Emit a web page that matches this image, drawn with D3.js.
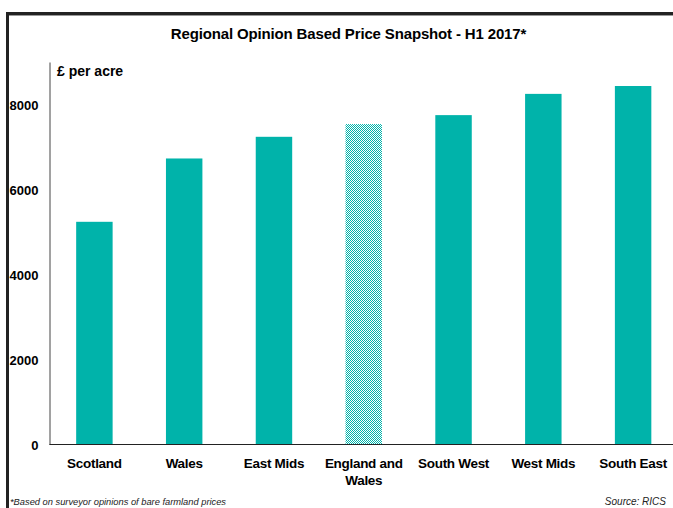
<!DOCTYPE html>
<html><head><meta charset="utf-8">
<script src="https://cdn.jsdelivr.net/npm/d3@7"></script>
<style>
html,body{margin:0;padding:0;background:#fff;}
svg{display:block;}
text{font-family:"Liberation Sans",Arial,sans-serif;}
</style></head>
<body>
<svg id="c" width="673" height="508"></svg>
<script>
const categories = ["Scotland","Wales","East Mids","England and Wales","South West","West Mids","South East"];
const labelLines = [["Scotland"],["Wales"],["East Mids"],["England and","Wales"],["South West"],["West Mids"],["South East"]];
const values = [5240, 6730, 7240, 7540, 7750, 8250, 8435];
const highlighted = ["England and Wales"];
const yTicks = [0, 2000, 4000, 6000, 8000];
const title = "Regional Opinion Based Price Snapshot - H1 2017*";
const unitLabel = "£ per acre";
const footnote = "*Based on surveyor opinions of bare farmland prices";
const source = "Source: RICS";

const svg = d3.select("#c");
const teal = "#00b3aa";

const defs = svg.append("defs");
const pat = defs.append("pattern").attr("id","chk").attr("patternUnits","userSpaceOnUse")
  .attr("width",2).attr("height",2);
pat.append("rect").attr("width",2).attr("height",2).attr("fill","#ffffff");
pat.append("rect").attr("x",0).attr("y",0).attr("width",1).attr("height",1).attr("fill",teal);
pat.append("rect").attr("x",1).attr("y",1).attr("width",1).attr("height",1).attr("fill",teal);

// frame
svg.append("line").attr("x1",6).attr("x2",673).attr("y1",13.5).attr("y2",13.5).attr("stroke","#222").attr("stroke-width",3);
svg.append("line").attr("x1",6).attr("x2",673).attr("y1",15.5).attr("y2",15.5).attr("stroke","#999").attr("stroke-width",1);
svg.append("line").attr("x1",7.5).attr("x2",7.5).attr("y1",12).attr("y2",508).attr("stroke","#222").attr("stroke-width",3);

const x = d3.scaleBand().domain(categories).range([49.5, 678]).paddingInner(0.594).paddingOuter(0.297);
const y = d3.scaleLinear().domain([0, 9000]).range([444.5, 62]);

// bars
svg.append("g").selectAll("rect").data(categories).join("rect")
  .attr("x", d => x(d))
  .attr("y", (d,i) => y(values[i]))
  .attr("width", x.bandwidth())
  .attr("height", (d,i) => y(0) - y(values[i]))
  .attr("fill", d => highlighted.includes(d) ? "url(#chk)" : teal);

// y axis
const yAxis = d3.axisLeft(y).tickValues(yTicks).tickSize(0).tickPadding(11).tickFormat(d3.format("d"));
const ya = svg.append("g").attr("transform","translate(49.5,0)").call(yAxis);
ya.select(".domain").attr("stroke","#444").attr("stroke-width",1);
ya.selectAll("text").attr("font-size",13).attr("font-weight","bold").attr("fill","#000")
  .attr("dy","0.4em")
  .attr("font-family",'"Liberation Sans",Arial,sans-serif');

// x axis
const xAxis = d3.axisBottom(x).tickSize(0).tickFormat("");
const xa = svg.append("g").attr("transform","translate(0,444.5)").call(xAxis);
xa.select(".domain").attr("stroke","#222").attr("stroke-width",1).attr("d","M49.5,0H673");
const xl = svg.append("g").selectAll("text").data(categories).join("text")
  .attr("x", d => x(d) + x.bandwidth()/2)
  .attr("y", 468)
  .attr("text-anchor","middle")
  .attr("font-size",13.5).attr("letter-spacing",-0.3).attr("font-weight","bold").attr("fill","#000");
xl.each(function(d,i){
  const t = d3.select(this);
  labelLines[i].forEach((ln,j)=>{
    t.append("tspan").attr("x", x(d)+x.bandwidth()/2).attr("dy", j===0?0:17).text(ln);
  });
});

// title
svg.append("text").attr("x",348.5).attr("y",39).attr("text-anchor","middle")
  .attr("font-size",15).attr("letter-spacing",-0.15).attr("font-weight","bold").attr("fill","#000").text(title);
svg.append("text").attr("x",57).attr("y",76).attr("font-size",14).attr("font-weight","bold").attr("fill","#000").text(unitLabel);

// footnotes
svg.append("text").attr("x",10).attr("y",505).attr("font-size",9.3).attr("font-style","italic").attr("fill","#222").text(footnote);
svg.append("text").attr("x",666).attr("y",505).attr("text-anchor","end").attr("font-size",10).attr("font-style","italic").attr("fill","#222").text(source);
</script>
</body></html>
